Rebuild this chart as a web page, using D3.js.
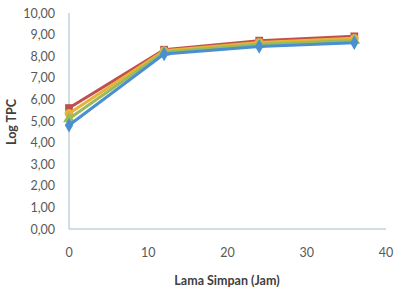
<!DOCTYPE html>
<html><head><meta charset="utf-8">
<script src="https://cdn.jsdelivr.net/npm/d3@7"></script>
<style>body{margin:0;background:#fff}svg{display:block}</style>
</head><body><svg id="c" width="397" height="288"></svg>
<script>
const hours = [0, 12, 24, 36];
const seriesRed = [5.6, 8.3, 8.72, 8.92];
const seriesOrange = [5.35, 8.25, 8.64, 8.83];
const seriesGreen = [5.1, 8.18, 8.55, 8.73];
const seriesBlue = [4.8, 8.1, 8.45, 8.62];
const yTicks = [0,1,2,3,4,5,6,7,8,9,10];
const xTicks = [0,10,20,30,40];

const svg = d3.select("#c");
const x = d3.scaleLinear().domain([0,40]).range([69,386]);
const y = d3.scaleLinear().domain([0,10]).range([229,13]);
const font = "Lato, 'Open Sans', sans-serif";

svg.append("line").attr("x1",x(0)).attr("x2",x(0)).attr("y1",y(10)).attr("y2",y(0)).attr("stroke","#c3d0da").attr("stroke-width",1.5);
svg.append("line").attr("x1",x(0)).attr("x2",x(40)).attr("y1",y(0)).attr("y2",y(0)).attr("stroke","#c3d0da").attr("stroke-width",1.5);

svg.selectAll("text.yt").data(yTicks).enter().append("text")
  .attr("x",55).attr("y",d=>y(d)+4.5).attr("text-anchor","end")
  .attr("font-family",font).attr("font-size",12.5).attr("fill","#595959")
  .text(d=>d3.format(".2f")(d).replace(".",","));
svg.selectAll("text.xt").data(xTicks).enter().append("text")
  .attr("x",d=>x(d)).attr("y",257).attr("text-anchor","middle")
  .attr("font-family",font).attr("font-size",12.5).attr("fill","#595959")
  .text(d=>d);

svg.append("text").attr("x",227).attr("y",285).attr("text-anchor","middle")
  .attr("font-family",font).attr("font-size",12.5).attr("font-weight","bold").attr("fill","#404040")
  .text("Lama Simpan (Jam)");
svg.append("text").attr("transform","translate(16,122) rotate(-90)").attr("text-anchor","middle")
  .attr("font-family",font).attr("font-size",12.5).attr("font-weight","bold").attr("fill","#404040")
  .text("Log TPC");

const series = [
  {v: seriesRed, c:"#c0504d", m:d3.symbolSquare},
  {v: seriesOrange, c:"#e8b23a", m:d3.symbolCircle},
  {v: seriesGreen, c:"#9bbb59", m:d3.symbolTriangle},
  {v: seriesBlue, c:"#4a8fcf", m:d3.symbolDiamond}
];
const line = d3.line().x((d,i)=>x(hours[i])).y(d=>y(d));
series.forEach(s=>{
  svg.append("path").datum(s.v).attr("d",line).attr("fill","none").attr("stroke",s.c).attr("stroke-width",3);
  svg.selectAll(null).data(s.v).enter().append("path")
    .attr("transform",(d,i)=>`translate(${x(hours[i])},${y(d)})`)
    .attr("d",d3.symbol().type(s.m).size(60)).attr("fill",s.c);
});
</script></body></html>
